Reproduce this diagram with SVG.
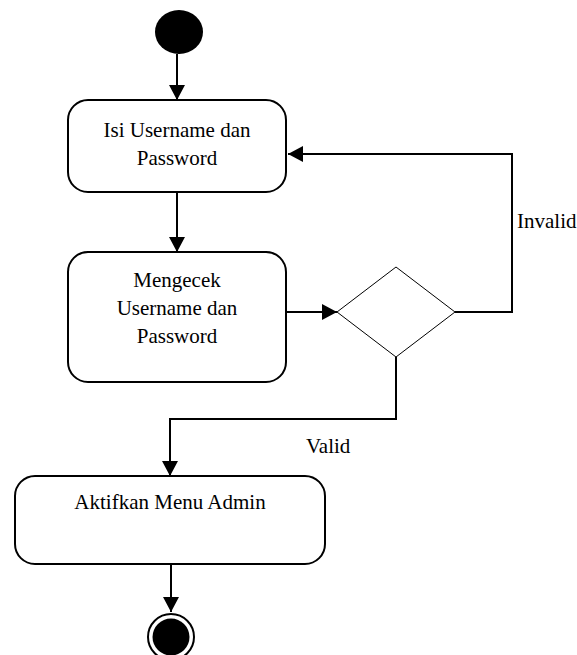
<svg xmlns="http://www.w3.org/2000/svg" width="577" height="655" viewBox="0 0 577 655">
<style>
.box{fill:#fff;stroke:#000;stroke-width:2}
.lbl{font-family:"Liberation Serif","Times New Roman",serif;font-size:21px;fill:#000}
.c{text-anchor:middle}
.conn{fill:none;stroke:#000;stroke-width:2}
</style>
<defs>
<marker id="ah" markerUnits="userSpaceOnUse" markerWidth="16" markerHeight="16" refX="15" refY="8" orient="auto">
<path d="M0,0 L15,8 L0,16 z" fill="#000"/>
</marker>
</defs>
<rect width="577" height="655" fill="#fff"/>
<g id="connectors">
<path class="conn" d="M177,54 L177,100" marker-end="url(#ah)"/>
<path class="conn" d="M177,192 L177,252" marker-end="url(#ah)"/>
<path class="conn" d="M286,312 L337,312" marker-end="url(#ah)"/>
<path class="conn" d="M455,312 L512,312 L512,154 L288,154" marker-end="url(#ah)"/>
<path class="conn" d="M396,357 L396,419 L170,419 L170,476" marker-end="url(#ah)"/>
<path class="conn" d="M171,564 L171,612" marker-end="url(#ah)"/>
<text class="lbl" x="517" y="228">Invalid</text>
<text class="lbl" x="306" y="453">Valid</text>
</g>
<g id="start">
<ellipse cx="179" cy="32" rx="24" ry="22" fill="#000"/>
</g>
<g id="isi">
<rect class="box" x="68" y="100" width="218" height="92" rx="20"/>
<text class="lbl c" x="177" y="137">Isi Username dan</text>
<text class="lbl c" x="177" y="165">Password</text>
</g>
<g id="cek">
<rect class="box" x="68" y="252" width="218" height="130" rx="20"/>
<text class="lbl c" x="177" y="287">Mengecek</text>
<text class="lbl c" x="177" y="315">Username dan</text>
<text class="lbl c" x="177" y="343">Password</text>
</g>
<g id="decision">
<polygon points="337,312 396,267 455,312 396,357" fill="#fff" stroke="#000" stroke-width="1"/>
</g>
<g id="aktif">
<rect class="box" x="15" y="476" width="310" height="88" rx="20"/>
<text class="lbl c" x="170" y="509">Aktifkan Menu Admin</text>
</g>
<g id="end">
<circle cx="171" cy="637" r="23" fill="#fff" stroke="#000" stroke-width="2"/>
<circle cx="171" cy="637" r="18.5" fill="#000"/>
</g>
</svg>
